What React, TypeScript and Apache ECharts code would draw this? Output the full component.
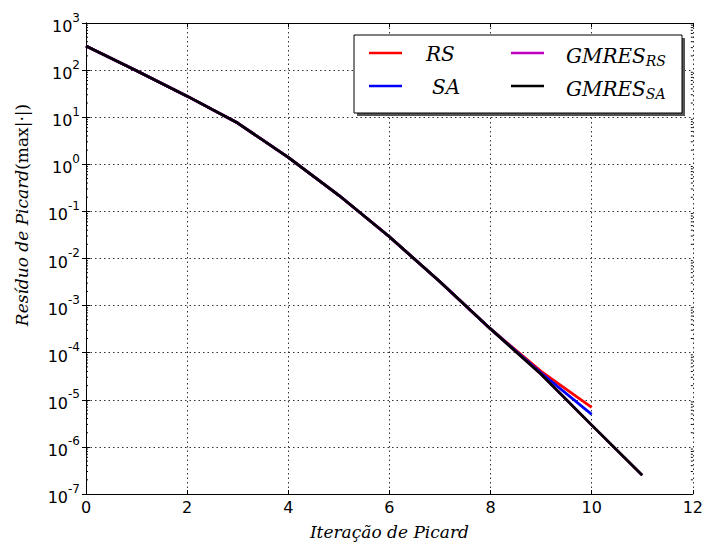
import React, { useEffect, useRef } from "react";
import * as echarts from "echarts";

const iterations = [0, 1, 2, 3, 4, 5, 6, 7, 8, 9, 10, 11];
const rsValues = [325, 97, 28, 7.5, 1.4, 0.22, 0.029, 0.0032, 0.00032, 0.00004, 0.0000069];
const saValues = [325, 97, 28, 7.5, 1.4, 0.22, 0.029, 0.0032, 0.00032, 0.000037, 0.0000049];
const gmresRsValues = [325, 97, 28, 7.5, 1.4, 0.22, 0.029, 0.0032, 0.00032, 0.000035, 0.0000029, 0.00000025];
const gmresSaValues = [325, 97, 28, 7.5, 1.4, 0.22, 0.029, 0.0032, 0.00032, 0.000035, 0.0000029, 0.00000025];
const xTicks = [0, 2, 4, 6, 8, 10, 12];
const yExponents = [-7, -6, -5, -4, -3, -2, -1, 0, 1, 2, 3];

const minorTickValues: number[] = [];
for (let e = -7; e < 3; e++) {
  for (let m = 2; m <= 9; m++) minorTickValues.push(m * Math.pow(10, e));
}

const toPairs = (vals: number[]) => vals.map((v, i) => [iterations[i], v]);

export default function App() {
  const ref = useRef<HTMLDivElement>(null);
  useEffect(() => {
    if (!ref.current) return;
    const chart = echarts.init(ref.current, undefined, { renderer: "svg" });
    const tickFont = "DejaVu Sans";
    const serif = "DejaVu Serif";
    const lineW = 2.8;
    const legendLine = (x: number, y: number, color: string) => ({
      type: "line",
      shape: { x1: x, y1: y, x2: x + 33, y2: y },
      style: { stroke: color, lineWidth: 2.6 },
      z: 102,
    });
    const legendText = (x: number, y: number, main: string, sub?: string) => ({
      type: "text",
      x,
      y,
      z: 102,
      style: {
        text: sub ? `{m|${main}}{s|${sub}}` : `{m|${main}}`,
        verticalAlign: "middle",
        rich: {
          m: { fontFamily: serif, fontStyle: "italic", fontSize: 20, fill: "#000", verticalAlign: "top", lineHeight: 22 },
          s: { fontFamily: serif, fontStyle: "italic", fontSize: 14, fill: "#000", verticalAlign: "bottom", lineHeight: 14 },
        },
      },
    });
    chart.setOption({
      animation: false,
      backgroundColor: "#fff",
      grid: { left: 86, right: 13, top: 23, bottom: 52, containLabel: false },
      xAxis: [
        {
          type: "value",
          min: 0,
          max: 12,
          interval: 2,
          name: "Iteração de Picard",
          nameLocation: "middle",
          nameGap: 29,
          nameTextStyle: { fontFamily: serif, fontStyle: "italic", fontSize: 17, color: "#000" },
          axisLine: { show: true, lineStyle: { color: "#000", width: 1 } },
          axisTick: { show: true, inside: true, length: 4, lineStyle: { color: "#000" } },
          axisLabel: {
            fontFamily: tickFont,
            fontSize: 16,
            color: "#000",
            margin: 5,
            formatter: (v: number) => (xTicks.includes(v) ? String(v) : ""),
          },
          splitLine: { show: true, lineStyle: { color: "#333", type: [1.5, 3], width: 1 } },
        },
        {
          type: "value",
          position: "top",
          min: 0,
          max: 12,
          interval: 2,
          axisLine: { show: true, lineStyle: { color: "#000", width: 1 } },
          axisTick: { show: true, inside: true, length: 4, lineStyle: { color: "#000" } },
          axisLabel: { show: false },
          splitLine: { show: false },
        },
      ],
      yAxis: [
        {
          type: "log",
          logBase: 10,
          min: 1e-7,
          max: 1e3,
          interval: 1,
          axisLine: { show: true, lineStyle: { color: "#000", width: 1 } },
          axisTick: { show: true, inside: true, length: 4, lineStyle: { color: "#000" } },
          axisLabel: {
            margin: 6,
            formatter: (v: number) => {
              const e = Math.round(Math.log10(v));
              return yExponents.includes(e) ? `{b|10}{s|${e}}` : "";
            },
            rich: {
              b: { fontFamily: tickFont, fontSize: 16, color: "#000", verticalAlign: "bottom", lineHeight: 23 },
              s: { fontFamily: tickFont, fontSize: 12, color: "#000", verticalAlign: "top", lineHeight: 12 },
            },
          },
          splitLine: { show: true, lineStyle: { color: "#333", type: [1.5, 3], width: 1 } },
        },
        {
          type: "log",
          logBase: 10,
          min: 1e-7,
          max: 1e3,
          interval: 1,
          position: "right",
          axisLine: { show: true, lineStyle: { color: "#000", width: 1 } },
          axisTick: { show: true, inside: true, length: 4, lineStyle: { color: "#000" } },
          axisLabel: { show: false },
          splitLine: { show: false },
        },
      ],
      series: [
        {
          name: "minor",
          type: "custom",
          silent: true,
          xAxisIndex: 0,
          yAxisIndex: 0,
          data: minorTickValues.map((v) => [0, v]),
          renderItem: (params: any, api: any) => {
            const p = api.coord([0, api.value(1)]);
            const cs = params.coordSys;
            return {
              type: "group",
              children: [
                { type: "line", shape: { x1: cs.x, y1: p[1], x2: cs.x + 2, y2: p[1] }, style: { stroke: "#000", lineWidth: 1 } },
                { type: "line", shape: { x1: cs.x + cs.width - 2, y1: p[1], x2: cs.x + cs.width, y2: p[1] }, style: { stroke: "#000", lineWidth: 1 } },
              ],
            };
          },
          z: 1,
        },
        { name: "RS", type: "line", data: toPairs(rsValues), showSymbol: false, lineStyle: { color: "#ff0000", width: lineW }, itemStyle: { color: "#ff0000" }, z: 3 },
        { name: "SA", type: "line", data: toPairs(saValues), showSymbol: false, lineStyle: { color: "#0000ff", width: lineW }, itemStyle: { color: "#0000ff" }, z: 4 },
        { name: "GMRES_RS", type: "line", data: toPairs(gmresRsValues), showSymbol: false, lineStyle: { color: "#bf00bf", width: lineW }, itemStyle: { color: "#bf00bf" }, z: 5 },
        { name: "GMRES_SA", type: "line", data: toPairs(gmresSaValues), showSymbol: false, lineStyle: { color: "#000000", width: lineW }, itemStyle: { color: "#000" }, z: 6 },
      ],
      graphic: [
        {
          type: "text",
          x: 22,
          y: 215,
          rotation: Math.PI / 2,
          style: {
            text: "{i|Resíduo de Picard}{r|(max|·|)}",
            align: "center",
            verticalAlign: "middle",
            rich: {
              i: { fontFamily: serif, fontStyle: "italic", fontSize: 17, fill: "#000" },
              r: { fontFamily: serif, fontSize: 17, fill: "#000" },
            },
          },
        },
        { type: "rect", shape: { x: 357, y: 38, width: 328, height: 78 }, style: { fill: "#555" }, z: 100 },
        { type: "rect", shape: { x: 354, y: 35, width: 328, height: 78 }, style: { fill: "#fff", stroke: "#000", lineWidth: 1 }, z: 101 },
        legendLine(369, 53, "#ff0000"),
        legendLine(369, 86, "#0000ff"),
        legendLine(511, 53, "#bf00bf"),
        legendLine(511, 86, "#000000"),
        legendText(426, 55, "RS"),
        legendText(432, 88, "SA"),
        legendText(566, 57, "GMRES", "RS"),
        legendText(566, 90, "GMRES", "SA"),
      ],
    });
    return () => chart.dispose();
  }, []);
  return <div ref={ref} style={{ position: "fixed", left: 0, top: 0, width: 706, height: 546 }} />;
}
